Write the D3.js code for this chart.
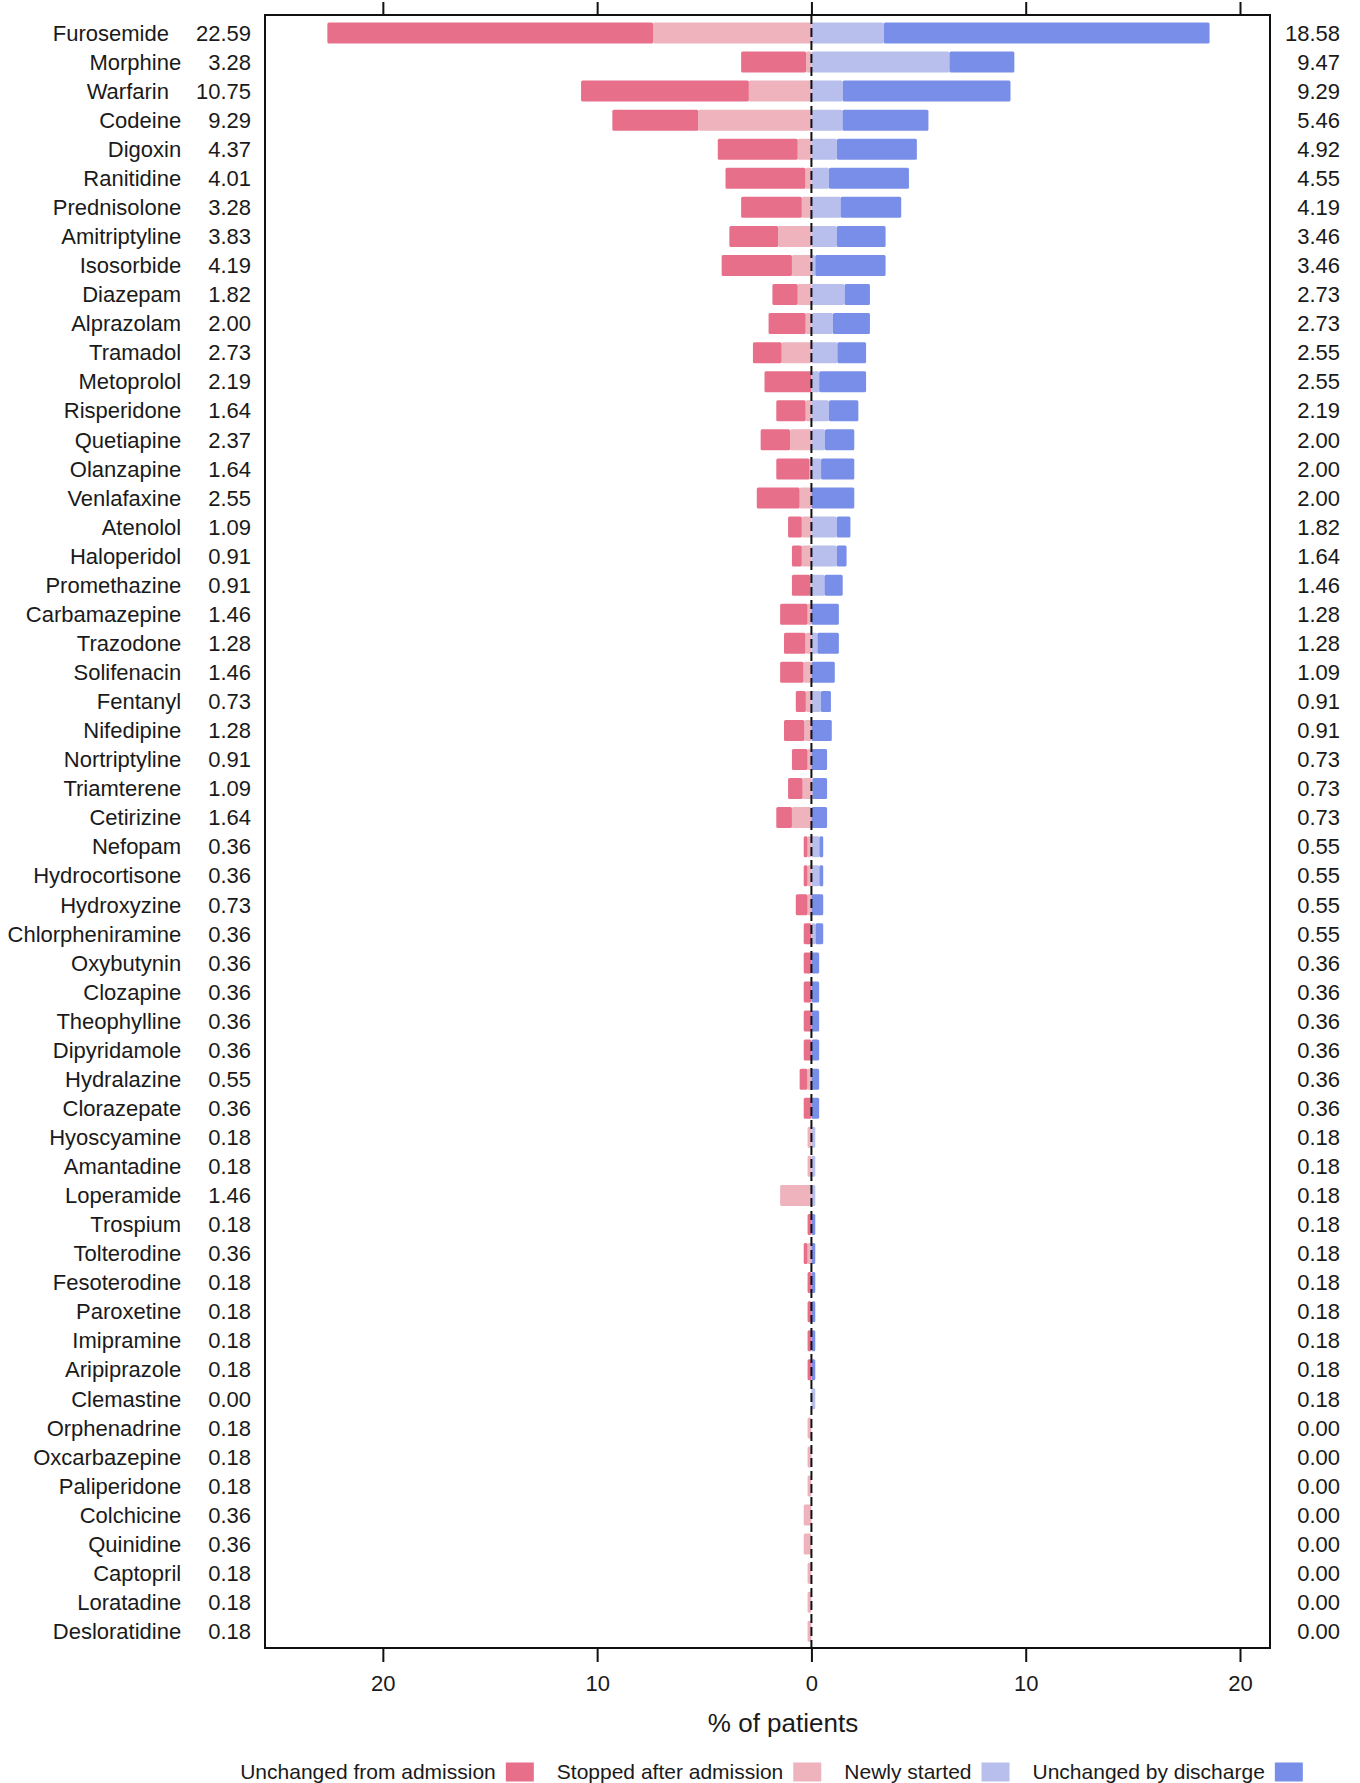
<!DOCTYPE html>
<html>
<head>
<meta charset="utf-8">
<script src="https://cdn.jsdelivr.net/npm/d3@7"></script>
<style>
  body { margin: 0; background: #fff; }
  text { font-family: "Liberation Sans", Arial, sans-serif; fill: #1a1a1a; }
</style>
</head>
<body>
<div id="container-svg"></div>
<script>
// Drugs, top to bottom
var drugs = ["Furosemide", "Morphine", "Warfarin", "Codeine", "Digoxin", "Ranitidine", "Prednisolone",
    "Amitriptyline", "Isosorbide", "Diazepam", "Alprazolam", "Tramadol", "Metoprolol", "Risperidone",
    "Quetiapine", "Olanzapine", "Venlafaxine", "Atenolol", "Haloperidol", "Promethazine", "Carbamazepine",
    "Trazodone", "Solifenacin", "Fentanyl", "Nifedipine", "Nortriptyline", "Triamterene", "Cetirizine",
    "Nefopam", "Hydrocortisone", "Hydroxyzine", "Chlorpheniramine", "Oxybutynin", "Clozapine",
    "Theophylline", "Dipyridamole", "Hydralazine", "Clorazepate", "Hyoscyamine", "Amantadine",
    "Loperamide", "Trospium", "Tolterodine", "Fesoterodine", "Paroxetine", "Imipramine", "Aripiprazole",
    "Clemastine", "Orphenadrine", "Oxcarbazepine", "Paliperidone", "Colchicine", "Quinidine",
    "Captopril", "Loratadine", "Desloratidine"]

// % of patients on the drug at admission (left total)
var admission = [22.59, 3.28, 10.75, 9.29, 4.37, 4.01, 3.28, 3.83, 4.19, 1.82, 2.00, 2.73, 2.19, 1.64,
    2.37, 1.64, 2.55, 1.09, 0.91, 0.91, 1.46, 1.28, 1.46, 0.73, 1.28, 0.91, 1.09, 1.64, 0.36, 0.36,
    0.73, 0.36, 0.36, 0.36, 0.36, 0.36, 0.55, 0.36, 0.18, 0.18, 1.46, 0.18, 0.36, 0.18, 0.18, 0.18,
    0.18, 0.00, 0.18, 0.18, 0.18, 0.36, 0.36, 0.18, 0.18, 0.18]

// % of patients on the drug at discharge (right total)
var discharge = [18.58, 9.47, 9.29, 5.46, 4.92, 4.55, 4.19, 3.46, 3.46, 2.73, 2.73, 2.55, 2.55, 2.19,
    2.00, 2.00, 2.00, 1.82, 1.64, 1.46, 1.28, 1.28, 1.09, 0.91, 0.91, 0.73, 0.73, 0.73, 0.55, 0.55,
    0.55, 0.55, 0.36, 0.36, 0.36, 0.36, 0.36, 0.36, 0.18, 0.18, 0.18, 0.18, 0.18, 0.18, 0.18, 0.18,
    0.18, 0.18, 0.00, 0.00, 0.00, 0.00, 0.00, 0.00, 0.00, 0.00]

var unchanged = [15.20, 3.03, 7.83, 4.01, 3.73, 3.73, 2.83, 2.28, 3.28, 1.18, 1.73, 1.34, 2.19, 1.37,
    1.37, 1.55, 2.00, 0.64, 0.46, 0.85, 1.28, 1.00, 1.09, 0.47, 0.95, 0.73, 0.68, 0.73, 0.18, 0.18,
    0.55, 0.36, 0.36, 0.36, 0.36, 0.36, 0.36, 0.36, 0.00, 0.00, 0.00, 0.18, 0.18, 0.18, 0.18, 0.18,
    0.18, 0.00, 0.00, 0.00, 0.00, 0.00, 0.00, 0.00, 0.00, 0.00]

var xTicks = [-20, -10, 0, 10, 20]

var legendLabels = ["Unchanged from admission", "Stopped after admission", "Newly started", "Unchanged by discharge"]
var colors = ["#e76f8a", "#eeb3bd", "#b8bfec", "#788ee8"]

// Build rows; left side values are negative for the diverging stack
var rows = drugs.map(function(d, i) {
    var u = unchanged[i]
    return {
        drug: d,
        stopped: -Math.max(0, admission[i] - u),
        unchangedAdm: -u,
        newly: Math.max(0, discharge[i] - u),
        unchangedDis: u
    }
})

const width = 1360
const height = 1783
var box = { left: 265, right: 1270, top: 15, bottom: 1648 }

const svg = d3.select("div#container-svg")
    .append("svg")
    .attr("width", width)
    .attr("height", height)

var x = d3.scaleLinear().domain([-25.5, 21.4]).range([box.left, box.right])
var y = d3.scalePoint().domain(drugs).range([33, 1631.3])
var barH = 21

var keys = ["stopped", "unchangedAdm", "newly", "unchangedDis"]
var keyColor = { unchangedAdm: colors[0], stopped: colors[1], newly: colors[2], unchangedDis: colors[3] }

var series = d3.stack().keys(keys).offset(d3.stackOffsetDiverging)(rows)

// Bars
svg.append("g").selectAll("g")
    .data(series)
    .join("g")
    .attr("fill", d => keyColor[d.key])
    .selectAll("rect")
    .data(d => d)
    .join("rect")
    .attr("x", d => x(Math.min(d[0], d[1])))
    .attr("y", d => y(d.data.drug) - barH / 2)
    .attr("width", d => Math.abs(x(d[1]) - x(d[0])))
    .attr("height", barH)
    .attr("rx", 1.5)

// Zero line
svg.append("line")
    .attr("x1", x(0)).attr("x2", x(0))
    .attr("y1", box.top).attr("y2", box.bottom)
    .attr("stroke", "#111")
    .attr("stroke-width", 2)
    .attr("stroke-dasharray", "9,4")

// Plot frame
svg.append("rect")
    .attr("x", box.left).attr("y", box.top)
    .attr("width", box.right - box.left)
    .attr("height", box.bottom - box.top)
    .attr("fill", "none")
    .attr("stroke", "#111")
    .attr("stroke-width", 2)

// Axes
var axisTop = svg.append("g")
    .attr("transform", "translate(0," + box.top + ")")
    .call(d3.axisTop(x).tickValues(xTicks).tickSize(13).tickFormat(""))
axisTop.select(".domain").remove()

var axisBottom = svg.append("g")
    .attr("transform", "translate(0," + box.bottom + ")")
    .call(d3.axisBottom(x).tickValues(xTicks).tickSize(14).tickPadding(13)
        .tickFormat(d => Math.abs(d)))
axisBottom.select(".domain").remove()
axisBottom.selectAll("text").style("font-size", "22px").attr("fill", "#1a1a1a")

svg.selectAll(".tick line").attr("stroke", "#111").attr("stroke-width", 2)

// Left labels: name + admission %
var leftLabels = svg.append("g")
leftLabels.selectAll("text.val")
    .data(drugs)
    .join("text")
    .attr("class", "val")
    .attr("x", 251)
    .attr("y", d => y(d))
    .attr("dy", "0.35em")
    .attr("text-anchor", "end")
    .style("font-size", "22px")
    .text((d, i) => admission[i].toFixed(2))

leftLabels.selectAll("text.val").each(function(d, i) {
    var w = this.getComputedTextLength()
    leftLabels.append("text")
        .attr("x", 251 - w - 27)
        .attr("y", y(d))
        .attr("dy", "0.35em")
        .attr("text-anchor", "end")
        .style("font-size", "22px")
        .text(d)
})

// Right labels: discharge %
svg.append("g").selectAll("text")
    .data(drugs)
    .join("text")
    .attr("x", 1340)
    .attr("y", d => y(d))
    .attr("dy", "0.35em")
    .attr("text-anchor", "end")
    .style("font-size", "22px")
    .text((d, i) => discharge[i].toFixed(2))

// Axis title
svg.append("text")
    .attr("x", 783)
    .attr("y", 1723)
    .attr("dy", "0.35em")
    .attr("text-anchor", "middle")
    .style("font-size", "26px")
    .text("% of patients")

// Legend
var legend = svg.append("g")
var lx = 0
legendLabels.forEach(function(label, i) {
    var t = legend.append("text")
        .attr("x", lx)
        .attr("y", 1772)
        .attr("dy", "0.35em")
        .style("font-size", "21px")
        .text(label)
    var w = t.node().getComputedTextLength()
    legend.append("rect")
        .attr("x", lx + w + 10)
        .attr("y", 1772 - 9.5)
        .attr("width", 28)
        .attr("height", 19)
        .attr("fill", colors[i])
    lx = lx + w + 10 + 28 + 23
})
var legendW = lx - 23
legend.attr("transform", "translate(" + (771.5 - legendW / 2) + ",0)")
</script>
</body>
</html>
